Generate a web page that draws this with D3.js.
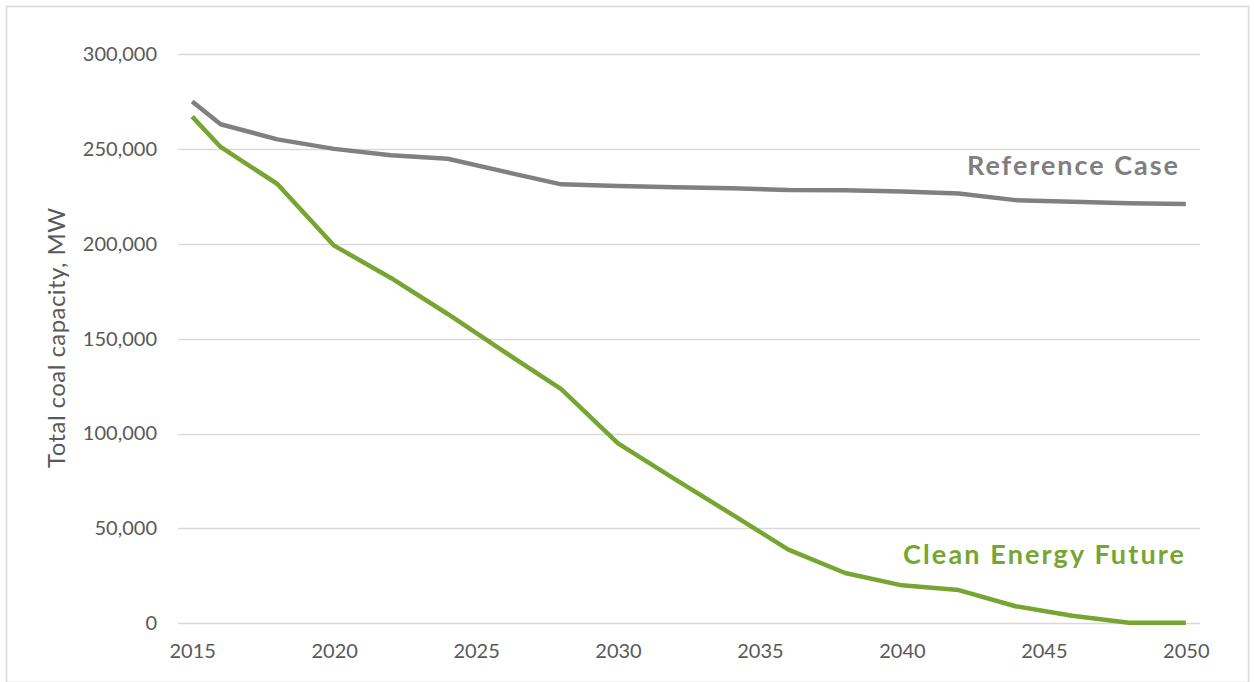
<!DOCTYPE html>
<html><head><meta charset="utf-8">
<script src="https://cdn.jsdelivr.net/npm/d3@7"></script>
<style>body{margin:0;background:#fff}svg{display:block}</style>
</head><body>
<svg id="c" width="1254" height="682"></svg>
<script>
const years = [2015,2016,2018,2020,2022,2024,2026,2028,2030,2032,2034,2036,2038,2040,2042,2044,2046,2048,2050];
const referenceCase = [275000,263000,255000,250000,246700,244800,238000,231300,230500,229800,229200,228300,228200,227500,226500,223000,222200,221300,221000];
const cleanEnergyFuture = [267000,251000,231500,199000,182000,163000,143000,123400,94800,76000,57500,38800,26500,20000,17500,9000,4000,300,300];
const yTicks = [0,50000,100000,150000,200000,250000,300000];
const xTickYears = [2015,2020,2025,2030,2035,2040,2045,2050];
const seriesNames = ["Reference Case","Clean Energy Future"];

(function(){
const svg = d3.select("#c");
const font = "Lato, 'Open Sans', sans-serif";
const pLeft = 178, pRight = 1200, pTop = 54, pBottom = 623.3;

svg.append("rect").attr("x",6.5).attr("y",6.5).attr("width",1242).attr("height",676)
  .attr("fill","none").attr("stroke","#d9d9d9").attr("stroke-width",1.5);

const x = d3.scaleLinear().domain([2014.5,2050.5]).range([pLeft,pRight]);
const y = d3.scaleLinear().domain([0,300000]).range([pBottom,pTop]);

svg.append("g").selectAll("line").data(yTicks).join("line")
  .attr("x1",pLeft).attr("x2",pRight)
  .attr("y1",d=>Math.round(y(d))+0.5).attr("y2",d=>Math.round(y(d))+0.5)
  .attr("stroke","#d9d9d9").attr("stroke-width",1.3);

const yAxis = d3.axisLeft(y).tickValues(yTicks).tickFormat(d3.format(",")).tickSize(0).tickPadding(0);
const ga = svg.append("g").attr("transform",`translate(157,0)`).call(yAxis);
ga.select(".domain").remove();
ga.selectAll("text").attr("font-family",font).attr("font-size",20).attr("fill","#595959");

const xAxis = d3.axisBottom(x).tickValues(xTickYears).tickFormat(d3.format("d")).tickSize(0).tickPadding(0);
const gx = svg.append("g").attr("transform",`translate(0,${pBottom+20})`).call(xAxis);
gx.select(".domain").remove();
gx.selectAll("text").attr("font-family",font).attr("font-size",20).attr("fill","#595959");

svg.append("text").attr("transform",`translate(65,338) rotate(-90)`)
  .attr("text-anchor","middle").attr("font-family",font).attr("font-size",24).attr("fill","#595959")
  .attr("textLength",260).attr("lengthAdjust","spacing")
  .text("Total coal capacity, MW");

const line = d3.line().x((d,i)=>x(years[i])).y(d=>y(d));
svg.append("path").datum(referenceCase).attr("d",line).attr("fill","none")
  .attr("stroke","#808080").attr("stroke-width",4.5).attr("stroke-linejoin","round");
svg.append("path").datum(cleanEnergyFuture).attr("d",line).attr("fill","none")
  .attr("stroke","#77a531").attr("stroke-width",4.5).attr("stroke-linejoin","round");

const lf = "Lato, 'Open Sans', sans-serif";
svg.append("text").attr("x",967).attr("y",175)
  .attr("font-family",lf).attr("font-weight","bold").attr("font-size",27).attr("fill","#7f7f7f")
  .attr("textLength",211).attr("lengthAdjust","spacing")
  .text(seriesNames[0]);
svg.append("text").attr("x",903).attr("y",564)
  .attr("font-family",lf).attr("font-weight","bold").attr("font-size",27).attr("fill","#77a531")
  .attr("textLength",281).attr("lengthAdjust","spacing")
  .text(seriesNames[1]);
})();
</script>
</body></html>
